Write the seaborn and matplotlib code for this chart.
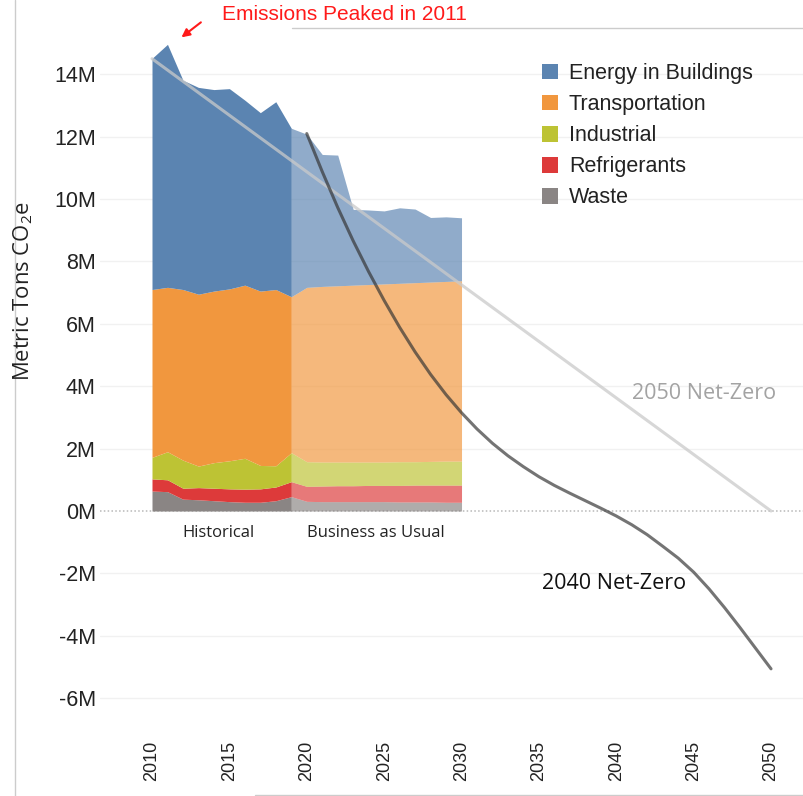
import matplotlib
matplotlib.use('Agg')
import matplotlib.pyplot as plt
from matplotlib.patches import Patch
from matplotlib.lines import Line2D
from matplotlib.ticker import FuncFormatter
import seaborn as sns

# ================================================
# Data (million metric tons CO2e)
# ================================================
sectors = ['Energy in Buildings', 'Transportation', 'Industrial', 'Refrigerants', 'Waste']
colors = ['#5b84b1', '#f1973e', '#bdc334', '#dd3a3a', '#8a8584']

hist_years = [2010, 2011, 2012, 2013, 2014, 2015, 2016, 2017, 2018, 2019]
hist_energy = [7.41, 7.79, 6.71, 6.63, 6.46, 6.42, 5.93, 5.72, 6.02, 5.40]
hist_transport = [5.38, 5.27, 5.47, 5.51, 5.50, 5.51, 5.55, 5.59, 5.65, 5.00]
hist_industrial = [0.69, 0.90, 0.90, 0.69, 0.82, 0.90, 0.99, 0.75, 0.68, 0.93]
hist_refrig = [0.39, 0.38, 0.35, 0.39, 0.40, 0.41, 0.42, 0.43, 0.44, 0.48]
hist_waste = [0.64, 0.62, 0.38, 0.36, 0.33, 0.30, 0.28, 0.28, 0.33, 0.46]

bau_years = [2019, 2020, 2021, 2022, 2023, 2024, 2025, 2026, 2027, 2028, 2029, 2030]
bau_energy = [5.40, 4.91, 4.23, 4.19, 2.43, 2.39, 2.34, 2.42, 2.36, 2.07, 2.07, 2.02]
bau_transport = [5.00, 5.59, 5.63, 5.65, 5.67, 5.69, 5.71, 5.72, 5.74, 5.75, 5.76, 5.78]
bau_industrial = [0.93, 0.79, 0.77, 0.76, 0.76, 0.75, 0.75, 0.76, 0.75, 0.76, 0.77, 0.77]
bau_refrig = [0.48, 0.48, 0.50, 0.51, 0.51, 0.52, 0.52, 0.53, 0.54, 0.54, 0.55, 0.55]
bau_waste = [0.46, 0.31, 0.30, 0.30, 0.30, 0.30, 0.30, 0.29, 0.29, 0.29, 0.28, 0.28]

nz2050_years = [2010, 2050]
nz2050_values = [14.5, 0.0]

nz2040_years = list(range(2020, 2051))
nz2040_values = [12.10, 10.88, 9.73, 8.66, 7.67, 6.75, 5.89, 5.10, 4.38, 3.73, 3.15,
                 2.63, 2.17, 1.77, 1.42, 1.10, 0.82, 0.57, 0.33, 0.09, -0.16,
                 -0.44, -0.76, -1.13, -1.51, -1.96, -2.50, -3.10, -3.74, -4.40, -5.06]

x_ticks = [2010, 2015, 2020, 2025, 2030, 2035, 2040, 2045, 2050]
y_ticks = [-6, -4, -2, 0, 2, 4, 6, 8, 10, 12, 14]

# ================================================
# Setup
# ================================================
sns.set_theme(style='white')
plt.rcParams['font.family'] = ['Liberation Sans', 'DejaVu Sans']

fig = plt.figure(figsize=(8.04, 7.96), dpi=100)
ax = fig.add_axes([100 / 804, 1 - 720 / 796, 704 / 804, 690 / 796])
ax.set_xlim(2006.64, 2052.13)
ax.set_ylim(-6.70, 15.42)

# faint grid + dotted zero line
for v in y_ticks:
    if v == 0:
        ax.axhline(v, color='#b8b8b8', lw=1.1, ls=(0, (1, 1.5)), zorder=0)
    else:
        ax.axhline(v, color='#f1f1f1', lw=1, zorder=0)

# stacked areas
ax.stackplot(hist_years, hist_waste, hist_refrig, hist_industrial, hist_transport, hist_energy,
             colors=colors[::-1], lw=0, zorder=2)
ax.stackplot(bau_years, bau_waste, bau_refrig, bau_industrial, bau_transport, bau_energy,
             colors=colors[::-1], alpha=0.68, lw=0, zorder=2)

# net-zero pathways
sns.lineplot(x=nz2050_years, y=nz2050_values, ax=ax, color='#cacaca', alpha=0.75,
             linewidth=2.2, zorder=3)
sns.lineplot(x=nz2040_years, y=nz2040_values, ax=ax, color='#333333', alpha=0.68,
             linewidth=2.2, zorder=4)

# ticks / axes
ax.set_xticks(x_ticks)
ax.set_yticks(y_ticks)
ax.yaxis.set_major_formatter(FuncFormatter(lambda v, p: f'{int(v)}M'))
ax.tick_params(axis='y', labelsize=15.5, pad=3, length=0, labelcolor='#222222')
ax.tick_params(axis='x', labelsize=13, pad=15, length=0, labelcolor='#222222',
               labelrotation=90)
for s in ax.spines.values():
    s.set_visible(False)
ax.set_xlabel('')
ax.set_ylabel('')

fig.text(23 / 804, 1 - 291 / 796, 'Metric Tons CO$_\\mathregular{2}$e', rotation=90,
         ha='center', va='center', fontsize=15.8, family=['Open Sans', 'DejaVu Sans'],
         color='#222222')

# annotations
ax.text(2014.27, -0.70, 'Historical', ha='center', va='center', fontsize=12,
        family=['Open Sans', 'DejaVu Sans'], color='#222222')
ax.text(2024.47, -0.70, 'Business as Usual', ha='center', va='center', fontsize=12,
        family=['Open Sans', 'DejaVu Sans'], color='#222222')
ax.text(2045.67, 3.78, '2050 Net-Zero', ha='center', va='center', fontsize=15.5,
        family=['Open Sans', 'DejaVu Sans'], color='#a3a3a3')
ax.text(2039.85, -2.34, '2040 Net-Zero', ha='center', va='center', fontsize=15.5,
        family=['Open Sans', 'DejaVu Sans'], color='#111111')

ax.text(2014.52, 15.93, 'Emissions Peaked in 2011', ha='left', va='center', fontsize=15,
        color='#ff1a1a', clip_on=False)
ax.annotate('', xy=(2011.76, 15.13), xytext=(2013.3, 15.72),
            arrowprops=dict(arrowstyle='-|>', color='#ff1a1a', lw=1.5, mutation_scale=12),
            annotation_clip=False)

# legend
handles = [Patch(facecolor=c, edgecolor='none') for c in colors]
fig.legend(handles, sectors, loc='upper left', bbox_to_anchor=(542 / 804, 1 - 63 / 796),
           frameon=False, fontsize=15.5, handlelength=0.75, handleheight=0.75,
           handletextpad=0.5, labelspacing=0.47, borderpad=0, borderaxespad=0,
           labelcolor='#222222')

# screenshot frame lines
fig.add_artist(Line2D([15 / 804, 15 / 804], [0, 1], color='#cccccc', lw=1))
fig.add_artist(Line2D([292 / 804, 1], [1 - 28 / 796, 1 - 28 / 796], color='#cccccc', lw=1))
fig.add_artist(Line2D([255 / 804, 1], [1 - 795 / 796, 1 - 795 / 796], color='#cccccc', lw=1))

plt.savefig('out.png', dpi=100)
print("Chart saved.")
